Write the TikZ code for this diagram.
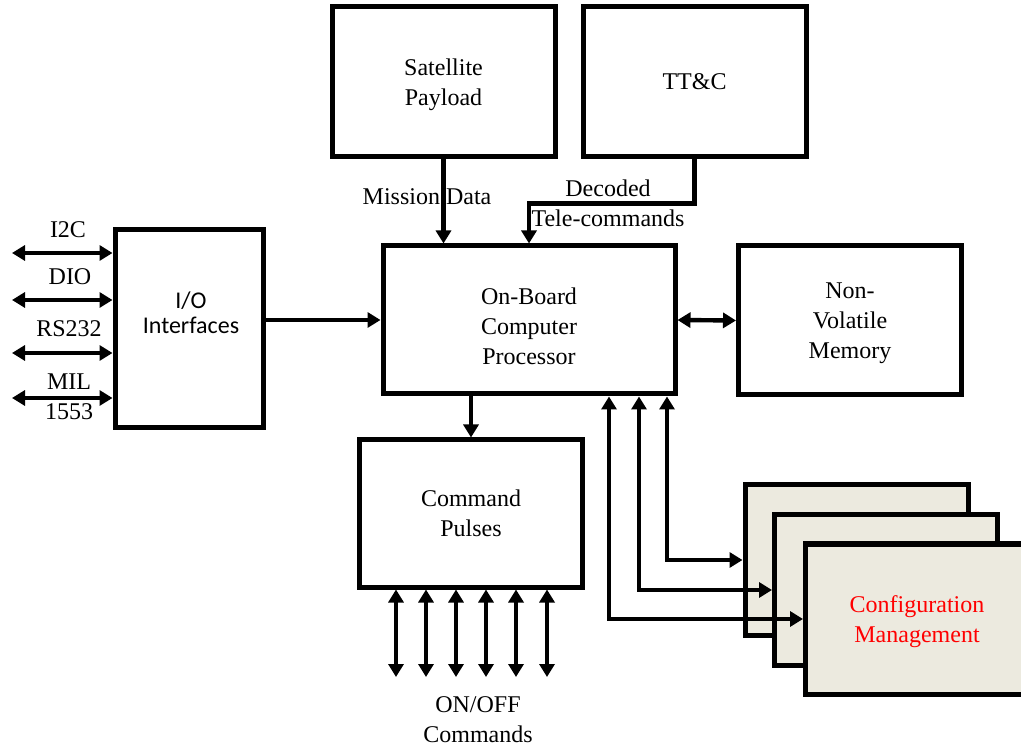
\documentclass[tikz,border=0pt]{standalone}
\usepackage{fontspec}
\setmainfont{Liberation Serif}
\newfontfamily\calibrifont{Carlito}
\usetikzlibrary{arrows.meta}
\definecolor{cfgfill}{HTML}{ECEADF}

\begin{document}
\begin{tikzpicture}[x=0.5pt,y=-0.5pt]
\tikzstyle{block}=[draw, line width=2.5pt, minimum width=111.5pt, minimum height=75pt, inner sep=0pt, align=center, text depth=0pt, font=\fontsize{12}{15}\selectfont]
\tikzstyle{cfg}=[block, fill=cfgfill]
\tikzstyle{lbl}=[inner sep=0pt, align=center, font=\fontsize{12}{15}\selectfont]
\tikzstyle{arr}=[line width=2.2pt, -{Triangle[length=6.5pt,width=7.5pt]}]
\tikzstyle{darr}=[line width=2.2pt, {Triangle[length=6.5pt,width=7.5pt]}-{Triangle[length=6.5pt,width=7.5pt]}]
\clip (0,0) rectangle (1021,747);

\node[block] (sat) at (443.5,82) {Satellite\\Payload};
\node[block] (ttc) at (694.5,82) {TT\&C};
\node[block, minimum width=74pt, minimum height=99pt] (io) at (189,329) {};
\node[lbl, font=\calibrifont\fontsize{12}{12.5}\selectfont] (io-txt) at (191,313) {I/O\\Interfaces};
\node[block, minimum width=146pt, minimum height=74pt] (obc) at (529,320) {};
\node[lbl] (obc-txt) at (529,326) {On-Board\\Computer\\Processor};
\node[block, minimum height=74.5pt] (nvm) at (850,320.5) {Non-\\Volatile\\Memory};
\node[block, minimum height=73.5pt] (cmd) at (471,513.5) {Command\\Pulses};

\node[cfg] (cfg3) at (856.5,560) {};
\node[cfg] (cfg2) at (886,590) {};
\node[cfg, text=red] (cfg1) at (917,619) {Configuration\\Management};

\coordinate (i2c) at (12,253);
\coordinate (dio) at (12,300);
\coordinate (rs232) at (12,353);
\coordinate (mil) at (12,398);
\node[lbl] (i2c-l) at (68,230) {I2C};
\node[lbl] (dio-l) at (70,277) {DIO};
\node[lbl] (rs232-l) at (69,329) {RS232};
\node[lbl] (mil-l) at (69,397) {MIL\\1553};
\foreach \p in {i2c,dio,rs232,mil}
  \draw[darr] (\p) -- (\p -| io.west);

\draw[arr] (io.east |- obc.west) -- (obc.west);
\draw[darr] (obc.east) -- (nvm.west);

\draw[arr] (sat.south) -- (sat.south |- obc.north);
\node[lbl] (md-l) at (427,197) {Mission Data};
\draw[arr] (ttc.south) -- ++(0,44) -| (obc.north);
\node[lbl] (tc-l) at (608,203) {Decoded\\Tele-commands};

\draw[arr] (obc.south -| cmd.north) -- (cmd.north);

\foreach \i/\x in {1/396,2/426,3/456,4/486,5/516,6/547}
  \coordinate (on\i) at (\x,677);
\foreach \i in {1,...,6}
  \draw[darr] (on\i |- cmd.south) -- (on\i);
\node[lbl] (onoff-l) at (478,720) {ON/OFF\\Commands};

\draw[darr] (cfg3.west) -| ([xshift=69pt]obc.south);
\draw[darr] (cfg2.west) -| ([xshift=55pt]obc.south);
\draw[darr] (cfg1.west) -| ([xshift=40pt]obc.south);
\end{tikzpicture}
\end{document}
